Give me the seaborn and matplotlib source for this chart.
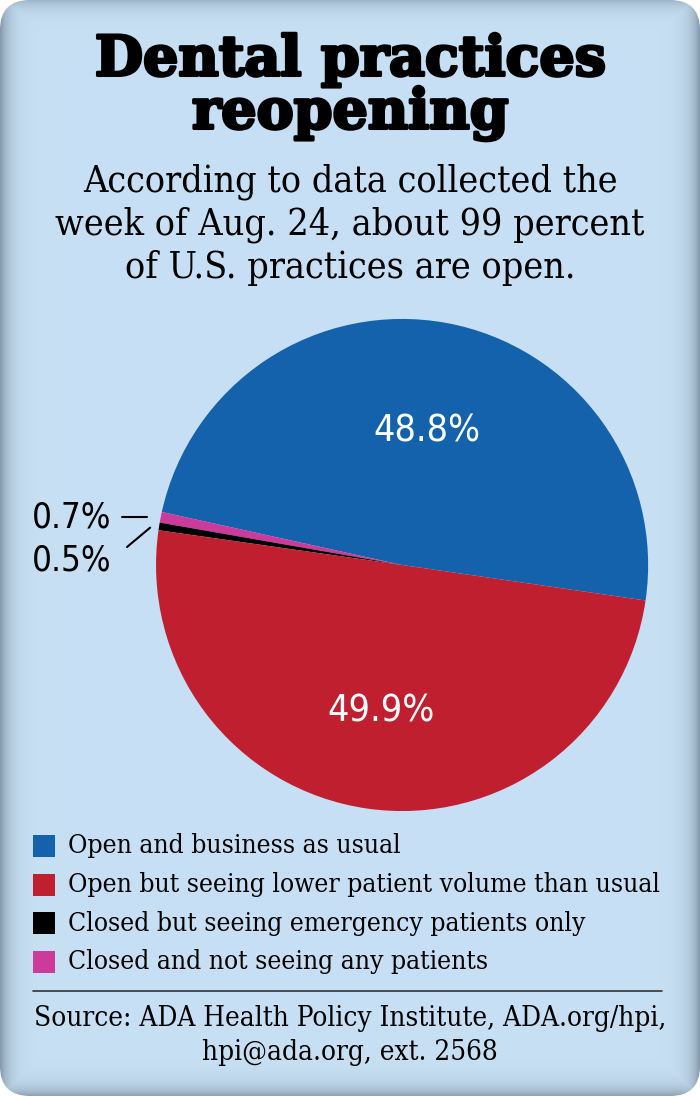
import numpy as np
import matplotlib
matplotlib.use('Agg')
import matplotlib.pyplot as plt
import matplotlib.patheffects as pe
import seaborn as sns
from matplotlib.patches import FancyBboxPatch

categories = ['Open and business as usual',
              'Open but seeing lower patient volume than usual',
              'Closed but seeing emergency patients only',
              'Closed and not seeing any patients']
values = [48.8, 49.9, 0.5, 0.7]
pct_labels = ['48.8%', '49.9%', '0.5%', '0.7%']
colors = ['#1462ab', '#c01f2f', '#000000', '#cc3b99']

sns.set_theme(style='white')
plt.rcParams['font.family'] = ['DejaVu Serif']

W, H = 700, 1096
fig = plt.figure(figsize=(W / 100, H / 100), dpi=100)
fig.patch.set_facecolor('white')

# shaded rounded panel
bg = fig.add_axes([0, 0, 1, 1])
bg.set_xlim(0, W)
bg.set_ylim(H, 0)
bg.axis('off')
yy, xx = np.mgrid[0:H, 0:W]
dl, dr, dt, db = xx, W - 1 - xx, yy, H - 1 - yy
shade = np.maximum.reduce([np.exp(-dl / 9.0), np.exp(-dr / 9.0),
                           0.6 * np.exp(-dt / 8.0), 0.85 * np.exp(-db / 9.0)])
inner = np.array([0.784, 0.878, 0.957])
edge = np.array([0.52, 0.60, 0.67])
img = inner[None, None, :] * (1 - shade[..., None]) + edge[None, None, :] * shade[..., None]
im = bg.imshow(img, extent=(0, W, H, 0), zorder=0)
panel = FancyBboxPatch((0, 0), W, H, boxstyle='round,pad=0,rounding_size=30',
                       transform=bg.transData, facecolor='none', edgecolor='none')
bg.add_patch(panel)
im.set_clip_path(panel)

# titles
heavy = [pe.withStroke(linewidth=2.2, foreground='black')]
fig.text(0.5, 1 - 60 / H, 'Dental practices', ha='center', va='center',
         fontsize=40, fontweight='bold', color='black', path_effects=heavy)
fig.text(0.5, 1 - 113 / H, 'reopening', ha='center', va='center',
         fontsize=40, fontweight='bold', color='black', path_effects=heavy)
for i, line in enumerate(['According to data collected the',
                          'week of Aug. 24, about 99 percent',
                          'of U.S. practices are open.']):
    fig.text(0.5, 1 - (182 + 43 * i) / H, line, ha='center', va='center',
             fontsize=27, fontstretch='condensed', color='black')

# pie
ax = fig.add_axes([0.2229, 0.26, 0.703, 0.449])
order = [0, 3, 2, 1]
wedges, _ = ax.pie([values[k] for k in order], colors=[colors[k] for k in order],
                   startangle=-8.3, counterclock=True,
                   wedgeprops=dict(linewidth=0))
ax.set_xlim(-1, 1)
ax.set_ylim(-1, 1)
ax.set_aspect('equal')
ax.axis('off')

mids = {}
for w, k in zip(wedges, order):
    mids[k] = np.deg2rad((w.theta1 + w.theta2) / 2)

for k, dist in [(0, 0.55), (1, 0.6)]:
    a = mids[k]
    ax.text(dist * np.cos(a), dist * np.sin(a), pct_labels[k], ha='center', va='center',
            color='white', fontsize=27, fontfamily='DejaVu Sans', fontstretch='condensed')

# small slices labels with leader lines
a = mids[3]
py = np.sin(a)
ax.plot([-1.138, -1.037], [py, py], color='black', lw=1.5, clip_on=False)
ax.text(-1.18, py, pct_labels[3], ha='right', va='center', color='black',
        fontsize=25, fontfamily='DejaVu Sans', fontstretch='condensed')
a = mids[2]
ax.plot([-1.024, -1.118], [np.sin(a) - 0.005, 0.073], color='black', lw=1.5, clip_on=False)
ax.text(-1.18, 0.02, pct_labels[2], ha='right', va='center', color='black',
        fontsize=25, fontfamily='DejaVu Sans', fontstretch='condensed')

# legend
for i, (cat, col) in enumerate(zip(categories, colors)):
    yc = 846 + 38.5 * i
    bg.add_patch(plt.Rectangle((33, yc - 11), 22, 22, facecolor=col, edgecolor='none', zorder=2))
    bg.text(68, yc, cat, ha='left', va='center', fontsize=19,
            fontstretch='condensed', color='black', zorder=3)

bg.plot([33, 662], [991, 991], color='#333333', lw=1.2, zorder=3)
bg.text(350, 1018, 'Source: ADA Health Policy Institute, ADA.org/hpi,', ha='center',
        va='center', fontsize=20, fontstretch='condensed', color='black', zorder=3)
bg.text(350, 1053, 'hpi@ada.org, ext. 2568', ha='center', va='center', fontsize=20,
        fontstretch='condensed', color='black', zorder=3)

fig.savefig('out.png', dpi=100, facecolor='white')
